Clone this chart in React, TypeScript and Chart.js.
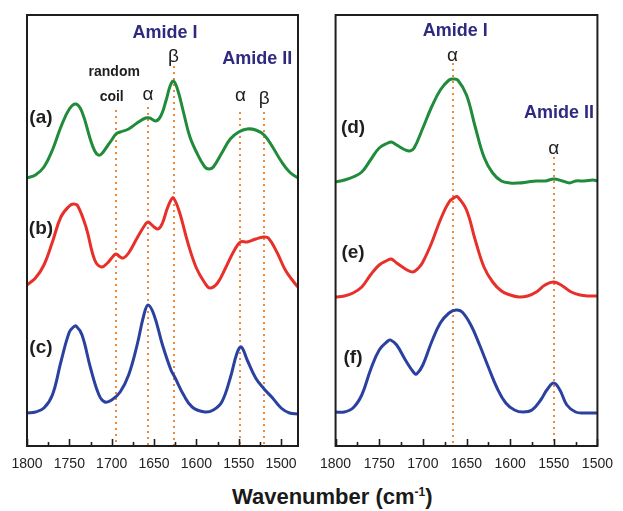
import React, { useEffect, useRef } from "react";
import { Chart, registerables } from "chart.js";

Chart.register(...registerables);

// ---------- data (wavenumber in cm-1, offset absorbance in a.u.) ----------
const waveA = [1800,1790,1780,1770,1760,1750,1742,1735,1725,1720,1716,1712,1705,1700,1695,1690,1680,1670,1660,1655,1648,1642,1636,1631,1627,1622,1615,1608,1600,1590,1585,1580,1570,1560,1550,1540,1530,1520,1510,1500,1490,1480];
const absA  = [2.68,2.71,2.79,2.96,3.19,3.37,3.42,3.34,3.06,2.95,2.91,2.92,3.00,3.06,3.12,3.14,3.17,3.23,3.28,3.28,3.25,3.30,3.45,3.60,3.65,3.56,3.33,3.10,2.94,2.79,2.77,2.79,2.93,3.07,3.14,3.17,3.16,3.11,2.99,2.85,2.74,2.68];

const waveB = [1800,1790,1780,1770,1760,1750,1745,1740,1730,1720,1712,1705,1700,1695,1690,1686,1680,1670,1660,1657,1650,1645,1640,1635,1630,1627,1620,1610,1600,1590,1584,1575,1565,1555,1548,1540,1530,1521,1515,1505,1495,1485,1480];
const absB  = [1.61,1.68,1.81,2.04,2.29,2.40,2.42,2.40,2.18,1.86,1.79,1.83,1.88,1.92,1.89,1.88,1.93,2.08,2.22,2.24,2.19,2.17,2.23,2.36,2.46,2.48,2.34,2.03,1.78,1.63,1.58,1.63,1.79,1.96,2.04,2.04,2.07,2.09,2.08,1.94,1.76,1.64,1.59];

const waveC = [1800,1790,1780,1770,1760,1750,1745,1742,1735,1725,1715,1708,1700,1690,1680,1670,1662,1657,1650,1640,1630,1625,1615,1605,1590,1580,1570,1560,1552,1547,1540,1530,1520,1510,1500,1490,1480];
const absC  = [0.33,0.34,0.38,0.51,0.84,1.14,1.19,1.20,1.11,0.78,0.51,0.44,0.46,0.54,0.71,1.01,1.31,1.41,1.31,1.01,0.76,0.68,0.51,0.39,0.34,0.36,0.44,0.68,0.93,0.99,0.86,0.68,0.57,0.48,0.38,0.33,0.32];

const waveD = [1800,1790,1780,1770,1760,1750,1740,1736,1730,1720,1715,1710,1700,1690,1680,1670,1665,1660,1650,1640,1630,1620,1610,1600,1590,1580,1570,1560,1550,1540,1532,1525,1515,1505,1500];
const absD  = [2.64,2.66,2.69,2.74,2.86,2.98,3.03,3.04,3.01,2.96,2.95,2.98,3.18,3.39,3.56,3.66,3.67,3.66,3.51,3.19,2.89,2.73,2.65,2.63,2.63,2.64,2.65,2.65,2.67,2.65,2.63,2.65,2.65,2.66,2.65];

const waveE = [1800,1790,1780,1770,1760,1750,1740,1736,1730,1720,1712,1705,1700,1690,1680,1670,1663,1660,1650,1640,1630,1620,1610,1600,1590,1580,1570,1560,1550,1540,1530,1520,1510,1500];
const absE  = [1.49,1.50,1.53,1.59,1.71,1.81,1.86,1.87,1.83,1.77,1.74,1.78,1.84,2.03,2.26,2.44,2.49,2.49,2.36,2.06,1.79,1.64,1.55,1.51,1.49,1.50,1.54,1.61,1.64,1.60,1.54,1.51,1.50,1.50];

const waveF = [1800,1790,1780,1770,1760,1750,1740,1737,1730,1720,1710,1707,1700,1690,1680,1670,1662,1655,1645,1635,1625,1615,1605,1595,1585,1575,1565,1558,1550,1543,1535,1525,1515,1500];
const absF  = [0.34,0.34,0.38,0.51,0.76,0.96,1.05,1.06,1.01,0.86,0.73,0.72,0.81,1.04,1.23,1.33,1.36,1.34,1.21,1.01,0.79,0.58,0.43,0.36,0.34,0.36,0.46,0.56,0.63,0.56,0.41,0.34,0.33,0.33];

const tickLabels = [1800, 1750, 1700, 1650, 1600, 1550, 1500];

// ---------- styling ----------
const GREEN = "#1f8b3b";
const RED = "#e8302a";
const BLUE = "#2b41a0";
const ORANGE = "#ee8a3c";
const NAVY = "#2e2a80";
const INK = "#1e1e1e";
const SANS = "'Liberation Sans', Arial, Helvetica, sans-serif";

type Label = { t: string; w: number; v: number; font: string; color: string };
type Marker = { w: number; top: number };

function decorPlugin(markers: Marker[], labels: Label[]) {
  return {
    id: "decor",
    beforeDatasetsDraw(chart: any) {
      const { ctx, chartArea, scales } = chart;
      const x = scales.x;
      const y = scales.y;
      ctx.save();
      ctx.strokeStyle = ORANGE;
      ctx.lineWidth = 2;
      ctx.setLineDash([2, 4]);
      for (const m of markers) {
        const px = Math.round(x.getPixelForValue(m.w));
        ctx.beginPath();
        ctx.moveTo(px, y.getPixelForValue(m.top));
        ctx.lineTo(px, chartArea.bottom);
        ctx.stroke();
      }
      ctx.restore();
    },
    afterDraw(chart: any) {
      const { ctx, chartArea, scales } = chart;
      const x = scales.x;
      const y = scales.y;
      ctx.save();
      // frame
      ctx.strokeStyle = INK;
      ctx.lineWidth = 2;
      ctx.strokeRect(chartArea.left, chartArea.top, chartArea.right - chartArea.left, chartArea.bottom - chartArea.top);
      // inward ticks, major every 50, minor every 25
      ctx.lineWidth = 1.6;
      for (let w = 1800; w >= x.min; w -= 25) {
        const px = Math.round(x.getPixelForValue(w)) + 0.5;
        const len = w % 50 === 0 ? 7 : 4;
        ctx.beginPath();
        ctx.moveTo(px, chartArea.bottom);
        ctx.lineTo(px, chartArea.bottom - len);
        ctx.stroke();
      }
      // text labels
      ctx.textAlign = "center";
      ctx.textBaseline = "middle";
      for (const l of labels) {
        ctx.font = l.font;
        ctx.fillStyle = l.color;
        ctx.fillText(l.t, x.getPixelForValue(l.w), y.getPixelForValue(l.v));
      }
      ctx.restore();
    },
  };
}

const amideFont = `bold 18px ${SANS}`;
const greekFont = `19px ${SANS}`;
const smallBold = `bold 14px ${SANS}`;
const panelFont = `bold 19px ${SANS}`;

const leftLabels: Label[] = [
  { t: "Amide I", w: 1637, v: 4.13, font: amideFont, color: NAVY },
  { t: "Amide II", w: 1528, v: 3.87, font: amideFont, color: NAVY },
  { t: "β", w: 1627, v: 3.89, font: greekFont, color: INK },
  { t: "random", w: 1697, v: 3.74, font: smallBold, color: INK },
  { t: "coil", w: 1700, v: 3.49, font: smallBold, color: INK },
  { t: "α", w: 1657, v: 3.51, font: greekFont, color: INK },
  { t: "α", w: 1548, v: 3.50, font: greekFont, color: INK },
  { t: "β", w: 1520, v: 3.47, font: greekFont, color: INK },
  { t: "(a)", w: 1783.5, v: 3.28, font: panelFont, color: INK },
  { t: "(b)", w: 1783.5, v: 2.17, font: panelFont, color: INK },
  { t: "(c)", w: 1783.5, v: 0.98, font: panelFont, color: INK },
];
const leftMarkers: Marker[] = [
  { w: 1695, top: 3.36 },
  { w: 1657, top: 3.39 },
  { w: 1627, top: 3.8 },
  { w: 1548, top: 3.34 },
  { w: 1520, top: 3.34 },
];

const rightLabels: Label[] = [
  { t: "Amide I", w: 1663, v: 4.15, font: amideFont, color: NAVY },
  { t: "α", w: 1666, v: 3.9, font: greekFont, color: INK },
  { t: "Amide II", w: 1544, v: 3.33, font: amideFont, color: NAVY },
  { t: "α", w: 1550, v: 2.97, font: greekFont, color: INK },
  { t: "(d)", w: 1780, v: 3.18, font: panelFont, color: INK },
  { t: "(e)", w: 1780, v: 1.93, font: panelFont, color: INK },
  { t: "(f)", w: 1780, v: 0.88, font: panelFont, color: INK },
];
const rightMarkers: Marker[] = [
  { w: 1666, top: 3.83 },
  { w: 1550, top: 2.89 },
];

function series(xs: number[], ys: number[], color: string) {
  return {
    data: xs.map((w, i) => ({ x: w, y: ys[i] })),
    borderColor: color,
    borderWidth: 3,
    pointRadius: 0,
    fill: false,
    tension: 0.4,
    borderJoinStyle: "round" as const,
  };
}

function makeConfig(
  datasets: any[],
  xmin: number,
  padding: { top: number; left: number; right: number; bottom: number },
  markers: Marker[],
  labels: Label[]
): any {
  return {
    type: "line",
    data: { datasets },
    options: {
      responsive: false,
      animation: false,
      events: [],
      layout: { padding },
      plugins: { legend: { display: false }, tooltip: { enabled: false } },
      scales: {
        x: {
          type: "linear",
          reverse: true,
          min: xmin,
          max: 1800,
          grid: { display: false, drawTicks: false },
          border: { display: false },
          afterBuildTicks: (scale: any) => {
            scale.ticks = tickLabels.filter((v) => v >= xmin).map((v) => ({ value: v }));
          },
          afterFit: (scale: any) => {
            scale.height = 34;
          },
          ticks: {
            autoSkip: false,
            maxRotation: 0,
            padding: 10,
            color: "#222",
            font: { family: SANS, size: 14 },
            callback: (v: any) => String(v),
          },
        },
        y: { display: false, min: 0, max: 4.31 },
      },
    },
    plugins: [decorPlugin(markers, labels)],
  };
}

export default function App() {
  const leftRef = useRef<HTMLCanvasElement>(null);
  const rightRef = useRef<HTMLCanvasElement>(null);

  useEffect(() => {
    const left = new Chart(
      leftRef.current as HTMLCanvasElement,
      makeConfig(
        [series(waveA, absA, GREEN), series(waveB, absB, RED), series(waveC, absC, BLUE)],
        1480,
        { top: 15, left: 27, right: 12, bottom: 0 },
        leftMarkers,
        leftLabels
      )
    );
    const right = new Chart(
      rightRef.current as HTMLCanvasElement,
      makeConfig(
        [series(waveD, absD, GREEN), series(waveE, absE, RED), series(waveF, absF, BLUE)],
        1500,
        { top: 15, left: 24, right: 17, bottom: 0 },
        rightMarkers,
        rightLabels
      )
    );
    return () => {
      left.destroy();
      right.destroy();
    };
  }, []);

  return (
    <div style={{ position: "absolute", left: 0, top: 0, width: 623, height: 511, background: "#fff", overflow: "hidden" }}>
      <canvas ref={leftRef} width={310} height={480} style={{ position: "absolute", left: 0, top: 0, width: 310, height: 480 }} />
      <canvas ref={rightRef} width={313} height={480} style={{ position: "absolute", left: 310, top: 0, width: 313, height: 480 }} />
      <div
        style={{
          position: "absolute",
          left: 232,
          top: 486,
          fontFamily: SANS,
          fontWeight: "bold",
          fontSize: 22,
          lineHeight: "22px",
          color: "#1a1a1a",
          whiteSpace: "nowrap",
        }}
      >
        Wavenumber (cm<sup style={{ fontSize: 12, lineHeight: 0, verticalAlign: "super" }}>-1</sup>)
      </div>
    </div>
  );
}
